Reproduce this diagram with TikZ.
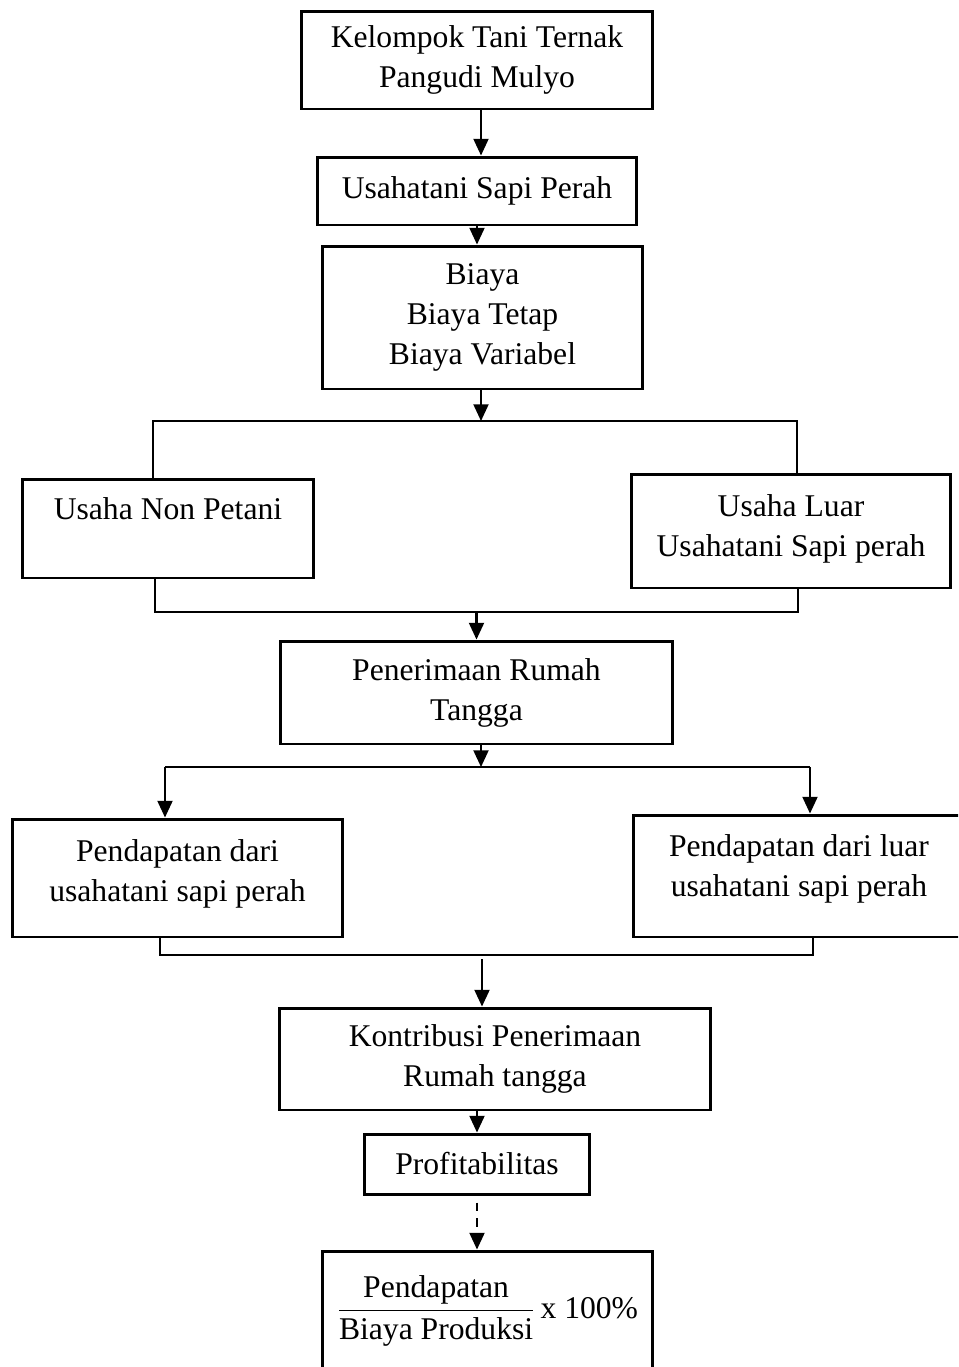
\documentclass[tikz,border=0pt]{standalone}
\usepackage{fontspec}
\setmainfont{Liberation Serif}
\usepackage{amsmath}
\usetikzlibrary{arrows.meta, positioning, calc}

\begin{document}
\begin{tikzpicture}[
    x=0.02cm, y=-0.02cm,
    box/.style={draw, line width=1.7pt, align=center, inner sep=2pt,
                font=\fontsize{18}{22.7}\selectfont},
    arr/.style={->, line width=1.2pt},
    thin line/.style={line width=0.6pt},
    >={Triangle[length=9.5pt, width=8.5pt]}
  ]
  \useasboundingbox (0,0) rectangle (958,1367);
  \clip (0,0) rectangle (958,1367);

  \node[box, minimum width=7.04cm, minimum height=1.96cm] (kel) at (477,60)
    {Kelompok Tani Ternak\\ Pangudi Mulyo};
  \node[box, minimum width=6.4cm, minimum height=1.36cm] (usp) at (477,191)
    {Usahatani Sapi Perah};
  \node[box, minimum width=6.42cm, minimum height=2.86cm] (biaya) at (482.5,317.5)
    {Biaya\\ Biaya Tetap\\ Biaya Variabel};
  \node[box, minimum width=5.84cm, minimum height=1.98cm] (nonp) at (168,528.5)
    {Usaha Non Petani\\ \mbox{}};
  \node[box, minimum width=6.4cm, minimum height=2.28cm] (luar) at (791,531)
    {Usaha Luar\\ Usahatani Sapi perah\\[-16pt]\mbox{}};
  \node[box, minimum width=7.86cm, minimum height=2.06cm] (terima) at (476.5,692.5)
    {Penerimaan Rumah\\ Tangga};
  \node[box, minimum width=6.62cm, minimum height=2.36cm] (pdr) at (177.5,878)
    {Pendapatan dari\\ usahatani sapi perah\\[-14pt]\mbox{}};
  \node[box, minimum width=6.64cm, minimum height=2.44cm] (pdl) at (799,876)
    {Pendapatan dari luar\\ usahatani sapi perah\\[-11pt]\mbox{}};
  \node[box, minimum width=8.64cm, minimum height=2.04cm] (kontr) at (495,1059)
    {Kontribusi Penerimaan\\ Rumah tangga};
  \node[box, minimum width=4.52cm, minimum height=1.2cm] (profit) at (477,1164)
    {Profitabilitas};
  \node[box, minimum width=6.62cm, minimum height=2.4cm] (rumus) at (487.5,1311)
    {$\dfrac{\text{Pendapatan}}{\text{Biaya Produksi}}$\,x 100\%};

  % split and join points
  \coordinate (sL) at (153,421);
  \coordinate (sR) at (797,421);
  \coordinate (jL) at (155,612);
  \coordinate (jR) at (798,612);
  \coordinate (tL) at (165,767);
  \coordinate (tR) at (810,767);
  \coordinate (kL) at (160,955);
  \coordinate (kR) at (813,955);
  \coordinate (k0) at (482,959);

  \draw[arr] ([xshift=4*0.02cm]kel.south) -- ([xshift=4*0.02cm]usp.north);
  \draw[arr] (usp.south) -- (usp.south |- biaya.north);
  \draw[arr] (biaya.south -| 481,0) -- (481,421);

  \draw[thin line] (sL |- nonp.north) -- (sL) -- (sR) -- (sR |- luar.north);
  \draw[thin line] (jL |- nonp.south) -- (jL) -- (jR) -- (jR |- luar.south);
  \draw[arr] (terima.north |- jL) -- (terima.north);

  \draw[arr] (terima.south -| 481,0) -- (481,767);
  \draw[thin line] (tL) -- (tR);
  \draw[arr] (tL) -- (tL |- pdr.north);
  \draw[arr] (tR) -- (tR |- pdl.north);

  \draw[thin line] (kL |- pdr.south) -- (kL) -- (kR) -- (kR |- pdl.south);
  \draw[arr] (k0) -- (k0 |- kontr.north);

  \draw[arr] (profit.north |- kontr.south) -- (profit.north);
  \draw[arr, dashed, dash pattern=on 5pt off 4pt, shorten <=4pt]
    (profit.south) -- (profit.south |- rumus.north);
\end{tikzpicture}
\end{document}
